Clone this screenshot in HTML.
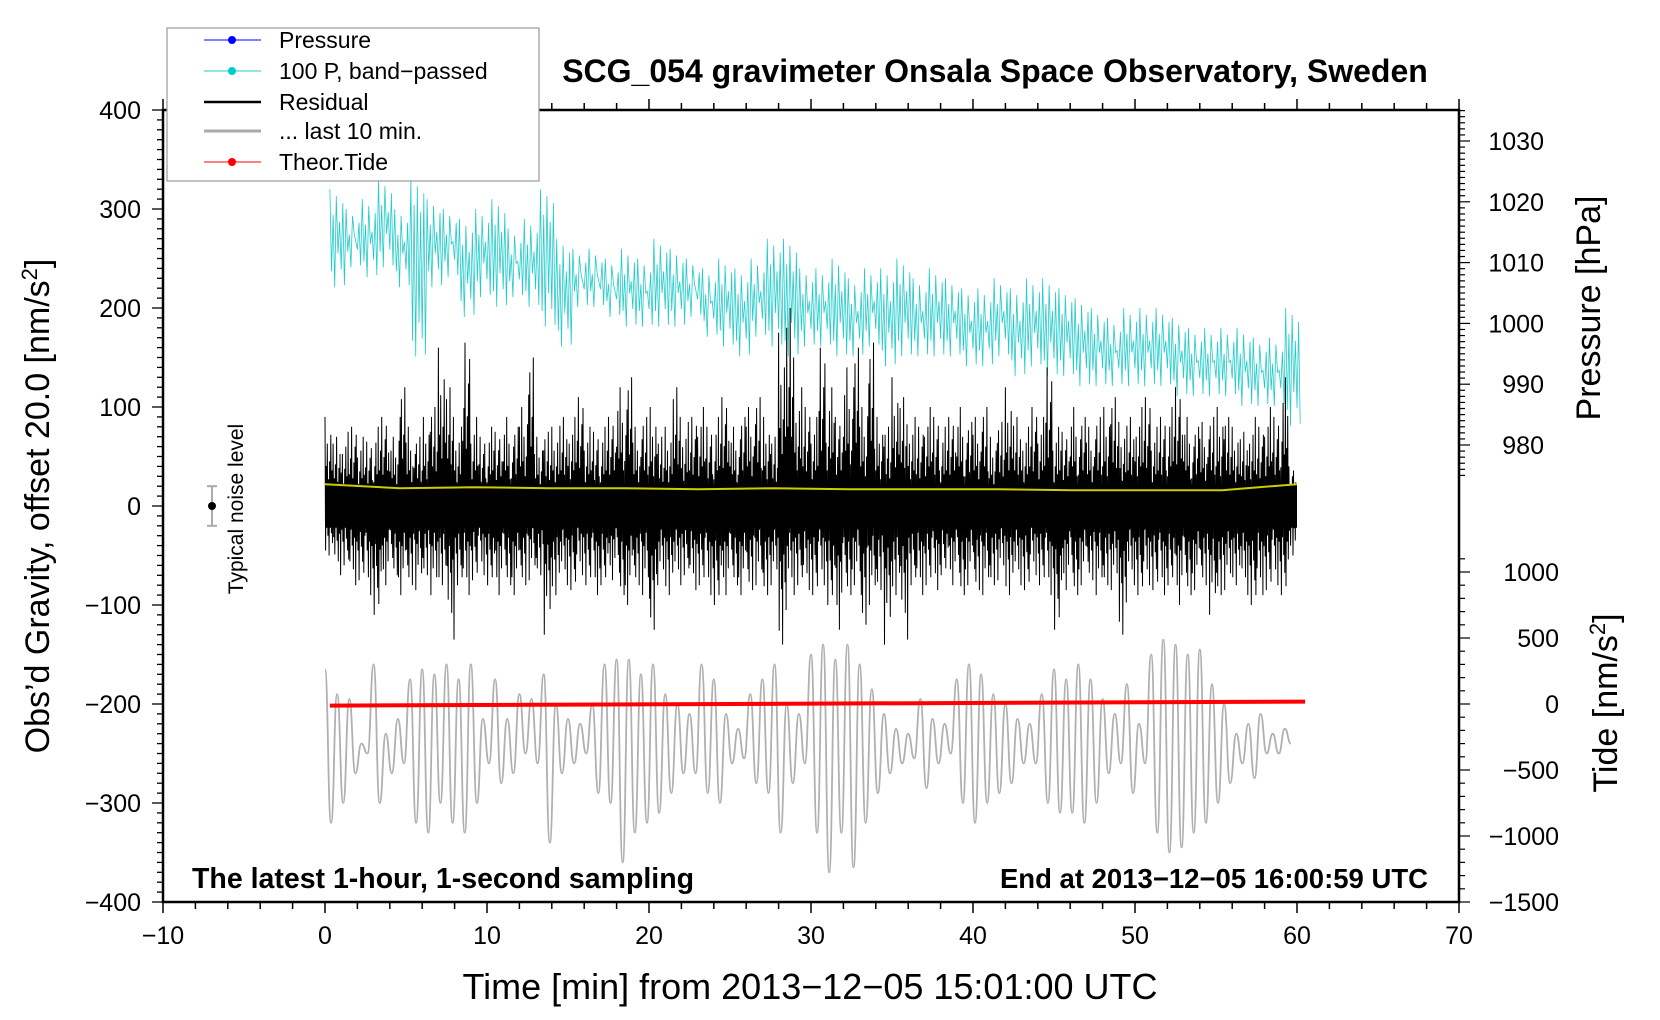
<!DOCTYPE html>
<html><head><meta charset="utf-8"><style>
html,body{margin:0;padding:0;background:#fff;}
svg{display:block;font-family:"Liberation Sans",sans-serif;}
</style></head><body>
<svg id="chart" width="1660" height="1020" viewBox="0 0 1660 1020">
<g id="plot"></g>
<g id="axes"></g>
</svg>
<script>
// ---- data ----
const xTicks = [-10,0,10,20,30,40,50,60,70];
const yTicks = [400,300,200,100,0,-100,-200,-300,-400];
const pTicks = [1030,1020,1010,1000,990,980];
const tTicks = [1000,500,0,-500,-1000,-1500];
// cyan band-passed pressure, per-minute high/low (gravity units)
const cyanHi = [320,300,310,330,300,330,310,300,290,300,310,280,290,320,270,260,260,250,260,250,270,260,250,240,250,240,250,270,270,240,240,250,230,240,240,250,230,240,230,220,220,230,220,230,230,220,210,200,190,200,200,200,190,180,180,180,180,170,170,200];
const cyanLo = [220,240,230,240,220,150,220,230,190,210,200,210,200,180,160,200,200,190,180,180,180,180,190,170,160,150,170,160,150,160,160,150,150,160,140,150,150,150,150,140,140,150,130,140,130,130,120,120,120,120,120,120,110,110,110,110,100,100,100,80];
// residual, per half-minute high/low
const resHi = [90,70,75,80,70,65,80,90,70,120,80,70,90,100,160,120,80,165,90,70,80,75,90,80,100,150,70,75,80,90,90,110,80,75,80,90,120,130,80,90,100,70,80,120,85,90,100,80,90,110,80,90,100,110,90,70,175,200,120,100,90,160,120,90,140,160,100,165,90,80,130,110,90,80,100,90,80,90,100,85,90,100,70,85,120,90,80,100,90,140,80,75,100,90,80,90,100,110,85,90,100,110,80,90,100,120,90,80,85,90,100,90,80,75,90,80,100,90,130,40];
const resLo = [-50,-70,-60,-80,-75,-90,-110,-80,-70,-90,-80,-85,-70,-90,-80,-135,-80,-90,-75,-70,-80,-90,-80,-90,-80,-75,-70,-130,-90,-80,-85,-70,-80,-90,-80,-75,-90,-100,-80,-90,-125,-80,-90,-80,-70,-85,-80,-90,-100,-90,-80,-90,-85,-80,-90,-80,-140,-90,-80,-85,-90,-80,-100,-125,-90,-80,-120,-100,-85,-140,-90,-135,-80,-90,-80,-85,-70,-80,-90,-80,-85,-90,-80,-75,-90,-80,-85,-70,-80,-90,-125,-85,-90,-80,-75,-90,-80,-85,-130,-80,-90,-80,-85,-90,-80,-100,-90,-85,-80,-110,-90,-85,-80,-90,-100,-90,-85,-80,-90,-50];
// yellow smoothed residual (per 5 min)
const yellow = [22,18,19,18,18,17,18,17,17,17,16,16,16,22];
// gray last 10 min, alternating extremes every 0.375 min
const gray = [-165,-320,-190,-300,-195,-270,-240,-250,-160,-300,-230,-270,-215,-260,-175,-320,-165,-330,-170,-300,
-160,-320,-175,-330,-160,-300,-215,-260,-175,-280,-215,-270,-190,-250,-195,-260,-170,-340,-200,-270,
-215,-260,-220,-250,-200,-290,-160,-300,-155,-360,-155,-330,-170,-320,-160,-310,-190,-290,-200,-270,
-210,-270,-160,-290,-175,-300,-210,-260,-225,-255,-190,-280,-175,-290,-160,-330,-200,-280,-210,-260,
-150,-330,-140,-370,-155,-330,-140,-365,-160,-320,-185,-290,-210,-270,-225,-260,-230,-255,-195,-285,
-215,-260,-220,-250,-175,-300,-160,-320,-170,-300,-190,-290,-200,-280,-215,-260,-220,-260,-190,-300,
-165,-310,-175,-310,-160,-320,-175,-300,-195,-270,-210,-260,-180,-290,-220,-260,-150,-330,-135,-350,
-140,-345,-150,-330,-145,-320,-180,-300,-200,-280,-230,-260,-220,-275,-210,-250,-230,-250,-225,-240];
// theoretical tide (nm/s^2) at start and end
const tideTimes = [0.3, 60.5];
const tideVals = [-12, 18];

// ---- scales ----
const L=163,R=1459,T=110,B=902;
const X=v=>L+(v+10)*(R-L)/80;
const Y=v=>T+(400-v)*(B-T)/800;
const YP=p=>141+(1030-p)*6.08;
const YT=t=>B-(t+1500)*(B-572)/2500;
const NS='http://www.w3.org/2000/svg';
const plot=document.getElementById('plot');
const axes=document.getElementById('axes');
function mk(tag,attrs,parent){const e=document.createElementNS(NS,tag);for(const k in attrs)e.setAttribute(k,attrs[k]);(parent||plot).appendChild(e);return e;}

// cyan
let pts=[];
for(let i=0;i<cyanHi.length;i++){
  for(let s=0;s<10;s++){
    const t=i+s/10+0.3;
    const v=(s%2===0)?cyanHi[i]-(s*13%45):cyanLo[i]+(s*17%50);
    pts.push(X(t).toFixed(1)+','+Y(v).toFixed(1));
  }
}
let c=mk('polyline',{points:pts.join(' '),fill:'none',stroke:'#22cccc','stroke-width':0.8});



// residual
let core=mk('rect',{x:X(0),y:Y(22),width:X(60)-X(0),height:Y(-22)-Y(22),fill:'#000'});


const fac=[1,0.9,0.45,0.4,0.7,0.6,0.3,1,0.5,0.35,0.8,0.55,0.4,0.75];
pts=[];
for(let i=0;i<resHi.length;i++){
  for(let s=0;s<14;s++){
    const t=i*0.5+s/28;
    const f=fac[(s+i)%14];
    const v=(s%2===0)?resHi[i]*f:resLo[i]*f;
    pts.push(X(t).toFixed(1)+','+Y(v).toFixed(1));
  }
}
let r=mk('polyline',{points:pts.join(' '),fill:'none',stroke:'#000','stroke-width':1});



// yellow
pts=yellow.map((v,i)=>X(i*60/(yellow.length-1)).toFixed(1)+','+Y(v).toFixed(1));
let yl=mk('polyline',{points:pts.join(' '),fill:'none',stroke:'#cccc00','stroke-width':2});



// gray (smooth curve through extremes)
let d='M'+X(0).toFixed(1)+','+Y(gray[0]).toFixed(1);
for(let i=1;i<gray.length;i++){
  const x0=X((i-1)*0.375),x1=X(i*0.375),xm=(x0+x1)/2;
  d+=` C${xm.toFixed(1)},${Y(gray[i-1]).toFixed(1)} ${xm.toFixed(1)},${Y(gray[i]).toFixed(1)} ${x1.toFixed(1)},${Y(gray[i]).toFixed(1)}`;
}
let g=mk('path',{d:d,fill:'none',stroke:'#b0b0b0','stroke-width':1.8});



// tide
let td=mk('line',{x1:X(tideTimes[0]),y1:YT(tideVals[0]),x2:X(tideTimes[1]),y2:YT(tideVals[1]),stroke:'#ff0000','stroke-width':4});



// noise level
let nb=mk('line',{x1:212,y1:Y(20),x2:212,y2:Y(-20),stroke:'#aaa','stroke-width':2});


mk('line',{x1:207,y1:Y(20),x2:217,y2:Y(20),stroke:'#aaa','stroke-width':2});
mk('line',{x1:207,y1:Y(-20),x2:217,y2:Y(-20),stroke:'#aaa','stroke-width':2});
mk('circle',{cx:212,cy:Y(0),r:4,fill:'#000'});
let nt=mk('text',{x:0,y:0,transform:`translate(243,${Y(0)+3}) rotate(-90)`,'text-anchor':'middle','font-size':21});
nt.textContent='Typical noise level';



// frame
mk('rect',{x:L,y:T,width:R-L,height:B-T,fill:'none',stroke:'#000','stroke-width':2.5},axes);
for(let v=-10;v<=70;v+=2){
  const big=v%10===0;
  mk('line',{x1:X(v),y1:B,x2:X(v),y2:B+(big?11:7),stroke:'#000','stroke-width':1.5},axes);
  mk('line',{x1:X(v),y1:T,x2:X(v),y2:T-(big?11:7),stroke:'#000','stroke-width':1.5},axes);
}
xTicks.forEach(v=>{const t=mk('text',{x:X(v),y:944,'text-anchor':'middle','font-size':25},axes);t.textContent=String(v).replace('-','\u2212');

});
for(let v=-400;v<=400;v+=10){
  const big=v%100===0;
  mk('line',{x1:L,y1:Y(v),x2:L-(big?11:6),y2:Y(v),stroke:'#000','stroke-width':1.3},axes);
}
yTicks.forEach(v=>{const t=mk('text',{x:141,y:Y(v)+9,'text-anchor':'end','font-size':25},axes);t.textContent=String(v).replace('-','\u2212');

});
for(let p=975;p<=1035;p+=1){const big=p%10===0;
  mk('line',{x1:R,y1:YP(p),x2:R+(big?11:6),y2:YP(p),stroke:'#000','stroke-width':1.2},axes);}
pTicks.forEach(p=>{const t=mk('text',{x:1544,y:YP(p)+9,'text-anchor':'end','font-size':25},axes);t.textContent=p;

});
for(let v=-1500;v<=1100;v+=100){const big=v%500===0;
  mk('line',{x1:R,y1:YT(v),x2:R+(big?11:6),y2:YT(v),stroke:'#000','stroke-width':1.2},axes);}
tTicks.forEach(v=>{const t=mk('text',{x:1559,y:YT(v)+9,'text-anchor':'end','font-size':25},axes);t.textContent=String(v).replace('-','\u2212');

});
</script>
<svg width="1660" height="1020" style="position:absolute;left:0;top:0">
<text x="995" y="82" text-anchor="middle" font-size="32" font-weight="bold" font-family="Liberation Sans, sans-serif">SCG_054 gravimeter Onsala Space Observatory, Sweden</text>
<text x="192" y="888" font-size="28.5" font-weight="bold" font-family="Liberation Sans, sans-serif">The latest 1-hour, 1-second sampling</text>
<text x="1428" y="888" text-anchor="end" font-size="27.5" font-weight="bold" font-family="Liberation Sans, sans-serif">End at 2013−12−05 16:00:59 UTC</text>
<text x="810" y="999" text-anchor="middle" font-size="36" font-family="Liberation Sans, sans-serif">Time [min] from 2013−12−05 15:01:00 UTC</text>
<text transform="translate(49,506) rotate(-90)" text-anchor="middle" font-size="34" font-family="Liberation Sans, sans-serif">Obs’d Gravity, offset 20.0 [nm/s<tspan dy="-12" font-size="22">2</tspan><tspan dy="12">]</tspan></text>
<text transform="translate(1600,308) rotate(-90)" text-anchor="middle" font-size="34" font-family="Liberation Sans, sans-serif">Pressure [hPa]</text>
<text transform="translate(1617,703) rotate(-90)" text-anchor="middle" font-size="34" font-family="Liberation Sans, sans-serif">Tide [nm/s<tspan dy="-12" font-size="22">2</tspan><tspan dy="12">]</tspan></text>
<g font-family="Liberation Sans, sans-serif" font-size="23">
<rect x="167" y="28" width="372" height="153" fill="#fff" stroke="#999" stroke-width="1.2"/>
<g><line x1="204" y1="40" x2="261" y2="40" stroke="#0000ff" stroke-width="1"/><circle cx="232" cy="40" r="4" fill="#0000ff"/><text x="279" y="48">Pressure</text></g>
<g><line x1="204" y1="71" x2="261" y2="71" stroke="#22cccc" stroke-width="1"/><circle cx="232" cy="71" r="4" fill="#00cccc"/><text x="279" y="79">100 P, band−passed</text></g>
<g><line x1="204" y1="102" x2="261" y2="102" stroke="#000" stroke-width="2.5"/><text x="279" y="110">Residual</text></g>
<g><line x1="204" y1="131" x2="261" y2="131" stroke="#aaa" stroke-width="3"/><text x="279" y="139">... last 10 min.</text></g>
<g><line x1="204" y1="162" x2="261" y2="162" stroke="#ff0000" stroke-width="1"/><circle cx="232" cy="162" r="4" fill="#ff0000"/><text x="279" y="170">Theor.Tide</text></g>
</g>
</svg>
</body></html>
